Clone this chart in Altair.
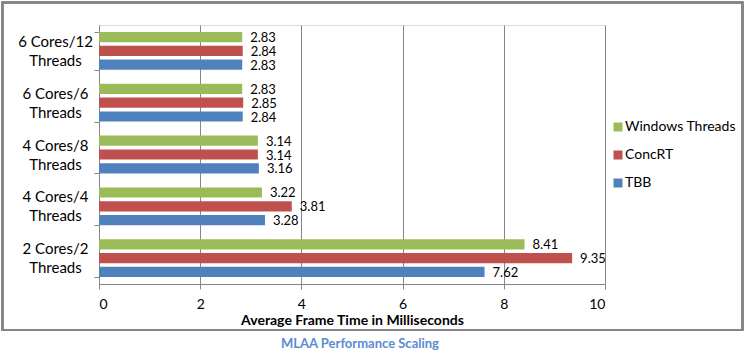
import altair as alt
import pandas as pd

categories = ["6 Cores/12 Threads", "6 Cores/6 Threads", "4 Cores/8 Threads",
              "4 Cores/4 Threads", "2 Cores/2 Threads"]
series = ["Windows Threads", "ConcRT", "TBB"]
windows_threads = [2.83, 2.83, 3.14, 3.22, 8.41]
concrt = [2.84, 2.85, 3.14, 3.81, 9.35]
tbb = [2.83, 2.84, 3.16, 3.28, 7.62]
colors = ["#9BBB59", "#C0504D", "#4F81BD"]

rows = []
for s, vals in zip(series, [windows_threads, concrt, tbb]):
    for c, v in zip(categories, vals):
        rows.append({"config": c, "series": s, "value": v})
df = pd.DataFrame(rows)

FONT = "Lato"
GRAY = "#868686"

y_enc = alt.Y("config:N", sort=categories, title=None,
              scale=alt.Scale(paddingInner=0.27, paddingOuter=0.135),
              axis=alt.Axis(labelExpr="datum.label ? [slice(datum.label, 0, indexof(datum.label, ' Threads')), 'Threads'] : ''",
                            labelAlign="center", labelBaseline="middle",
                            labelPadding=39, labelLineHeight=19, labelOffset=-9.5,
                            tickBand="extent", tickSize=5, tickColor=GRAY,
                            domainColor=GRAY, grid=False,
                            labelFont=FONT, labelFontSize=15, labelColor="#000000"))
yoff = alt.YOffset("series:N", sort=series,
                   scale=alt.Scale(domain=series, paddingInner=0.26, paddingOuter=0))
x_enc = alt.X("value:Q", title="Average Frame Time in Milliseconds",
              scale=alt.Scale(domain=[0, 10], nice=False),
              axis=alt.Axis(values=[0, 2, 4, 6, 8, 10], format="d",
                            grid=True, gridColor=GRAY, gridOpacity=1,
                            tickSize=5, tickColor=GRAY, domainColor=GRAY,
                            labelFont=FONT, labelFontSize=14, labelColor="#000000",
                            labelPadding=8,
                            titleFont=FONT, titleFontSize=14, titleFontWeight="bold",
                            titleColor="#000000", titlePadding=2))

bars = alt.Chart(df).mark_bar().encode(
    x=x_enc, y=y_enc, yOffset=yoff,
    color=alt.Color("series:N", sort=series,
                    scale=alt.Scale(domain=series, range=colors),
                    legend=alt.Legend(title=None, orient="none", legendX=512, legendY=95,
                                      symbolType="square", symbolSize=81,
                                      symbolStrokeWidth=0, rowPadding=14,
                                      labelFont=FONT, labelFontSize=14,
                                      labelColor="#000000", labelOffset=0)),
)

labels = alt.Chart(df).mark_text(align="left", baseline="middle", dx=8, dy=1,
                                 font=FONT, fontSize=13, color="#000000").encode(
    x="value:Q", y=alt.Y("config:N", sort=categories), yOffset=yoff,
    text=alt.Text("value:Q", format=".2f"),
)

frame = alt.Chart(df).mark_rect(fill=None, stroke=GRAY, strokeWidth=1.5).encode(
    x=alt.value(-96.5), x2=alt.value(643.5), y=alt.value(-22.5), y2=alt.value(305)
)

chart = alt.layer(frame, bars, labels).properties(
    width=506, height=259,
    title=alt.Title("MLAA Performance Scaling", orient="bottom", anchor="middle",
                    frame="group", dx=8, offset=7, font=FONT, fontSize=13,
                    fontWeight="bold", color="#5B8BD0"),
    autosize=alt.AutoSizeParams(type="none"),
    padding={"left": 99, "top": 25, "right": 141, "bottom": 70},
).configure_view(stroke=None).configure(background="white")

chart.save("out.html", embed_options={"renderer": "svg", "actions": False})
